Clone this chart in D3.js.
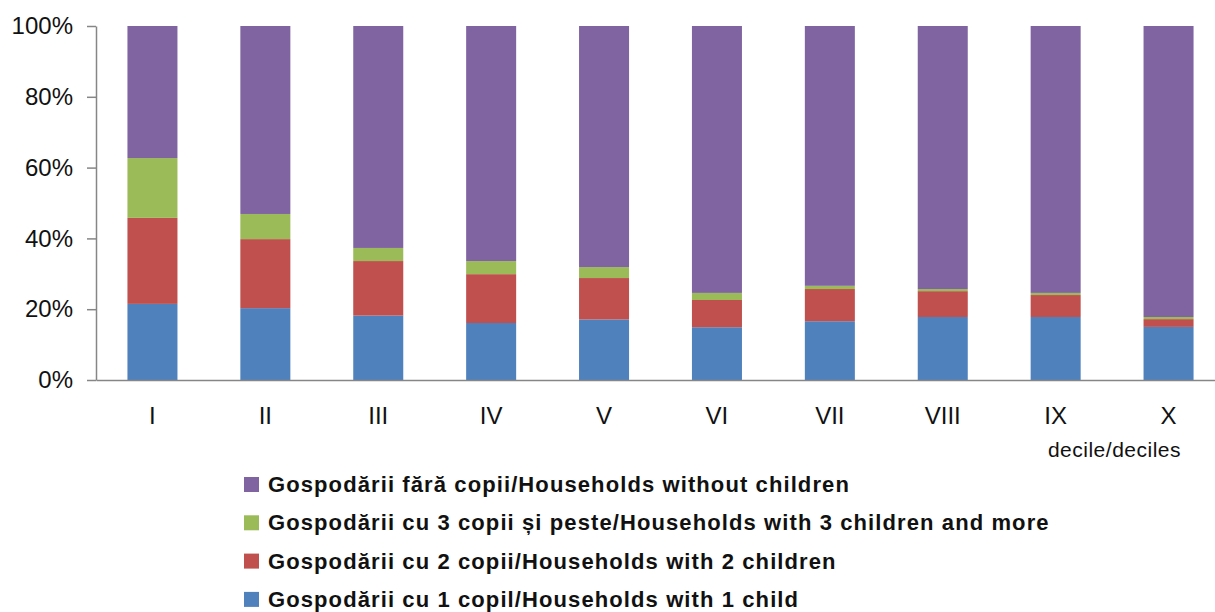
<!DOCTYPE html>
<html>
<head>
<meta charset="utf-8">
<script src="https://cdn.jsdelivr.net/npm/d3@7"></script>
<style>
  body { margin: 0; background: #fff; }
  svg { display: block; font-family: "Liberation Sans", Arial, sans-serif; }
  .y-axis text, .x-axis text { font-size: 24px; fill: #111; }
  .legend-label { font-size: 22px; font-weight: bold; fill: #111; letter-spacing: 1.1px; }
</style>
</head>
<body>
<svg id="chart"></svg>
<script>
// deciles on the x axis
const deciles = ["I", "II", "III", "IV", "V", "VI", "VII", "VIII", "IX", "X"];

// share of households per decile (%)
const oneChild = [21.5, 20.3, 18.2, 16.1, 17.1, 14.9, 16.6, 17.8, 17.8, 15.0];
const twoChildren = [24.3, 19.5, 15.4, 13.8, 11.7, 7.7, 9.1, 7.3, 6.2, 2.2];
const threePlus = [16.9, 7.1, 3.7, 3.7, 3.1, 2.0, 0.9, 0.6, 0.6, 0.6];
const noChildren = [37.3, 53.1, 62.7, 66.4, 68.1, 75.4, 73.4, 74.3, 75.4, 82.2];

const yTicks = [0, 20, 40, 60, 80, 100];

const seriesNames = [
  "Gospodării cu 1 copil/Households with 1 child",
  "Gospodării cu 2 copii/Households with 2 children",
  "Gospodării cu 3 copii și peste/Households with 3 children and more",
  "Gospodării fără copii/Households without children"
];
const seriesColors = ["#4f81bd", "#c0504d", "#9bbb59", "#8064a2"];

const svgWidth = 1215;
const svgHeight = 612;

const svg = d3.select("#chart")
  .attr("width", svgWidth)
  .attr("height", svgHeight);

// build rows for the stack
const keys = ["one", "two", "three", "none"];
const rows = deciles.map((d, i) => ({
  decile: d,
  one: oneChild[i],
  two: twoChildren[i],
  three: threePlus[i],
  none: noChildren[i]
}));

const stacked = d3.stack().keys(keys)
  .offset(d3.stackOffsetExpand)(rows);

const xScale = d3.scaleBand()
  .domain(deciles)
  .range([96, 1225])
  .paddingInner(0.557)
  .paddingOuter(0.2785);

const yScale = d3.scaleLinear()
  .domain([0, 1])
  .range([380, 26]);

// bars
svg.append("g")
  .selectAll("g")
  .data(stacked)
  .enter().append("g")
  .attr("fill", (s, i) => seriesColors[i])
  .selectAll("rect")
  .data(s => s)
  .enter().append("rect")
  .attr("x", d => xScale(d.data.decile))
  .attr("y", d => yScale(d[1]))
  .attr("width", xScale.bandwidth())
  .attr("height", d => yScale(d[0]) - yScale(d[1]));

// y axis
const yAxisGroup = svg.append("g")
  .attr("class", "y-axis")
  .attr("transform", "translate(96,0)")
  .call(d3.axisLeft(yScale)
    .tickValues(yTicks.map(t => t / 100))
    .tickFormat(t => Math.round(t * 100) + "%")
    .tickSize(9)
    .tickSizeOuter(0)
    .tickPadding(14));
yAxisGroup.selectAll("line, path").attr("stroke", "#868686").attr("stroke-width", 1.5);

// x axis
const xAxisGroup = svg.append("g")
  .attr("class", "x-axis")
  .attr("transform", "translate(0,380)")
  .call(d3.axisBottom(xScale).tickSize(0).tickSizeOuter(0).tickPadding(27));
xAxisGroup.select("path").attr("stroke", "#868686").attr("stroke-width", 1.5);

// axis title
svg.append("text")
  .attr("x", 1181)
  .attr("y", 457)
  .attr("text-anchor", "end")
  .style("font-size", "21px")
  .style("letter-spacing", "0.5px")
  .style("fill", "#111")
  .text("decile/deciles");

// legend, top entry is the top stack
const legendOrder = [3, 2, 1, 0];
const legend = svg.append("g")
  .selectAll("g")
  .data(legendOrder)
  .enter().append("g")
  .attr("transform", (d, i) => "translate(244," + (477 + i * 38.3) + ")");

legend.append("rect")
  .attr("width", 15)
  .attr("height", 15)
  .attr("fill", d => seriesColors[d]);

legend.append("text")
  .attr("class", "legend-label")
  .attr("x", 24)
  .attr("y", 15)
  .text(d => seriesNames[d]);
</script>
</body>
</html>
